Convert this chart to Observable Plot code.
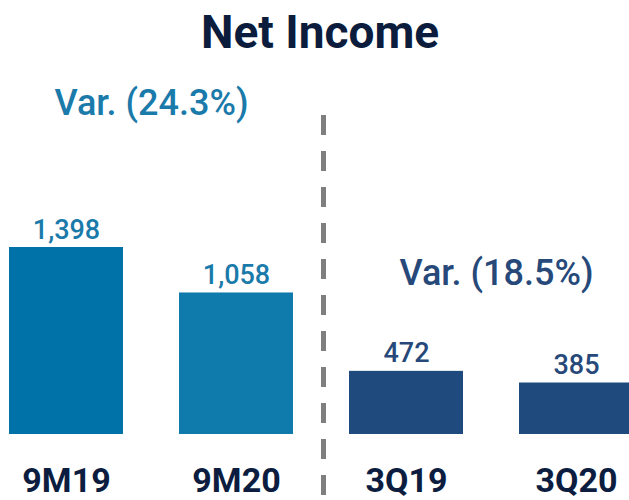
<!DOCTYPE html>
<html>
<head>
<meta charset="utf-8">
<script src="https://cdn.jsdelivr.net/npm/d3@7"></script>
<script src="https://cdn.jsdelivr.net/npm/@observablehq/plot@0.6"></script>
<style>
  html, body { margin: 0; padding: 0; background: #fff; overflow: hidden; width: 629px; height: 500px; }
  h1 { margin: 0; height: 64px; line-height: 64px; font-family: Roboto, sans-serif; font-weight: 700; font-size: 46px; color: #0b1c3d; text-align: center; padding-left: 11px; box-sizing: border-box; width: 629px; }
  #chart svg { overflow: visible; }
</style>
</head>
<body>
<h1>Net Income</h1>
<div id="chart"></div>
<script>
const categories = ["9M19", "9M20", "3Q19", "3Q20"];
const values = [1398, 1058, 472, 385];
const valueLabels = ["1,398", "1,058", "472", "385"];
const barColors = ["#0072a7", "#0e7bac", "#1f4a7d", "#1f4a7d"];
const labelColors = ["#1a7aaa", "#1a7aaa", "#26497a", "#26497a"];
const varLabels = ["Var. (24.3%)", "Var. (18.5%)"];
const varAnchors = ["9M19", "3Q19"];
const varColors = ["#1a7aaa", "#26497a"];

const data = categories.map((c, i) => ({cat: c, value: values[i], label: valueLabels[i], bar: barColors[i], lab: labelColors[i]}));
const vars = varLabels.map((t, i) => ({text: t, cat: varAnchors[i], color: varColors[i]}));

const font = "Roboto, sans-serif";

const chart = Plot.plot({
  width: 629,
  height: 436,
  marginTop: 51,
  marginBottom: 0,
  marginLeft: 0,
  marginRight: 0,
  style: {fontFamily: font, background: "white", overflow: "visible"},
  x: {domain: categories, range: [8, 633], paddingInner: 0.33, paddingOuter: 0, axis: null},
  y: {domain: [0, 1398], range: [370, 183], axis: null},
  marks: [
    Plot.barY(data, {x: "cat", y: "value", fill: "bar"}),
    Plot.text(data, {x: "cat", y: "value", text: "label", fill: "lab", lineAnchor: "bottom", dy: -9, fontSize: 27, fontWeight: 500}),
    Plot.text(data, {x: "cat", text: "cat", frameAnchor: "bottom", lineAnchor: "bottom", dy: -9, fill: "#0c1d3f", fontSize: 34, fontWeight: 700}),
    Plot.text(vars.slice(0, 1), {x: "cat", text: "text", fill: "color", frameAnchor: "top", lineAnchor: "bottom", dx: 85, dy: -1, fontSize: 36, fontWeight: 500}),
    Plot.text(vars.slice(1), {x: "cat", text: "text", fill: "color", frameAnchor: "top", lineAnchor: "bottom", dx: 90, dy: 169, fontSize: 36, fontWeight: 500}),
    Plot.ruleX(["9M20"], {x: d => d, dx: 87, stroke: "#7f7f7f", strokeWidth: 5, strokeDasharray: "20,16"})
  ]
});
document.getElementById("chart").appendChild(chart);
</script>
</body>
</html>
